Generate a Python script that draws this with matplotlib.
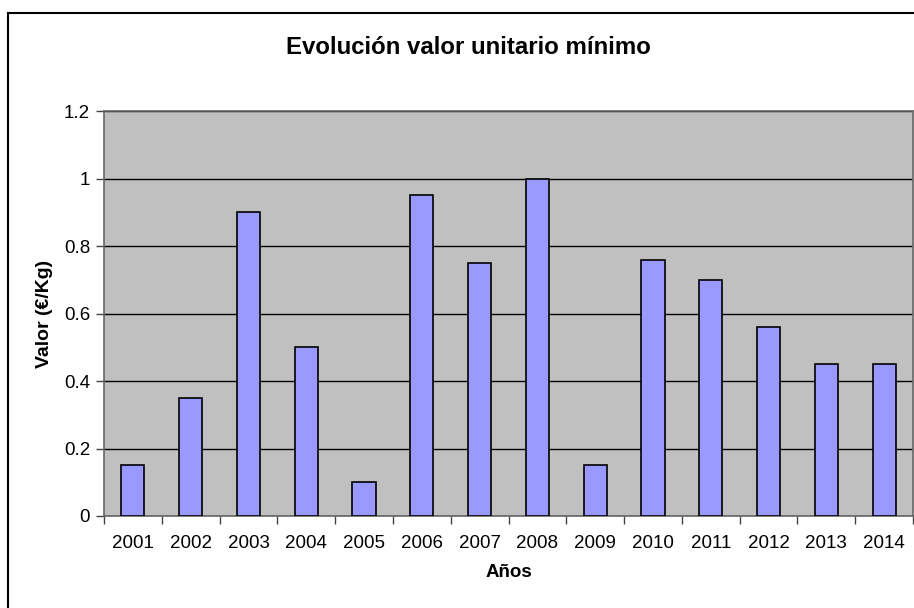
import numpy as np
import matplotlib.pyplot as plt
from matplotlib.lines import Line2D

plt.rcParams['font.family'] = ['Liberation Sans', 'DejaVu Sans']

years = ['2001', '2002', '2003', '2004', '2005', '2006', '2007',
         '2008', '2009', '2010', '2011', '2012', '2013', '2014']
valores = [0.15, 0.35, 0.90, 0.50, 0.10, 0.95, 0.75,
           1.00, 0.15, 0.76, 0.70, 0.56, 0.45, 0.45]

fig = plt.figure(figsize=(9.14, 6.08), dpi=100)
ax = fig.add_axes([104/914, 92/608, (913-104)/914, (516-111)/608])

x = np.arange(len(years))
ax.set_facecolor('#C0C0C0')
ax.bar(x, valores, width=0.4, color='#9999FF', edgecolor='black', lw=1.2, zorder=3)

ax.set_xlim(-0.5, len(years) - 0.5)
ax.set_ylim(0, 1.2)
ax.set_yticks(np.arange(0, 1.21, 0.2))
ax.set_yticklabels(['0', '0.2', '0.4', '0.6', '0.8', '1', '1.2'], fontsize=13.5)
ax.set_xticks(x)
ax.set_xticklabels(years, fontsize=13.5)
ax.tick_params(axis='x', length=0, pad=14)
ax.set_xticks(np.arange(-0.5, len(years), 1), minor=True)
ax.tick_params(axis='x', which='minor', length=6, width=1, color='#444444')
ax.tick_params(axis='y', length=6, width=1, color='#444444', pad=4)
ax.yaxis.grid(True, color='black', lw=1, zorder=1)
ax.set_axisbelow(True)
for s in ax.spines.values():
    s.set_color('#666666')
    s.set_linewidth(1.2)

ax.set_xlabel('Años', fontsize=13.5, fontweight='bold', labelpad=8)
ax.set_ylabel('Valor (€/Kg)', fontsize=14, fontweight='bold', labelpad=8)
fig.text(0.513, 1 - 48/608, 'Evolución valor unitario mínimo', fontsize=17.3,
         fontweight='bold', ha='center', va='center')

# outer chart border (left and top visible)
fig.add_artist(Line2D([8/914, 8/914], [0, 1 - 13/608], color='black', lw=1.5,
                      transform=fig.transFigure))
fig.add_artist(Line2D([8/914, 1], [1 - 13/608, 1 - 13/608], color='black', lw=1.5,
                      transform=fig.transFigure))

fig.savefig('out.png', dpi=100)
